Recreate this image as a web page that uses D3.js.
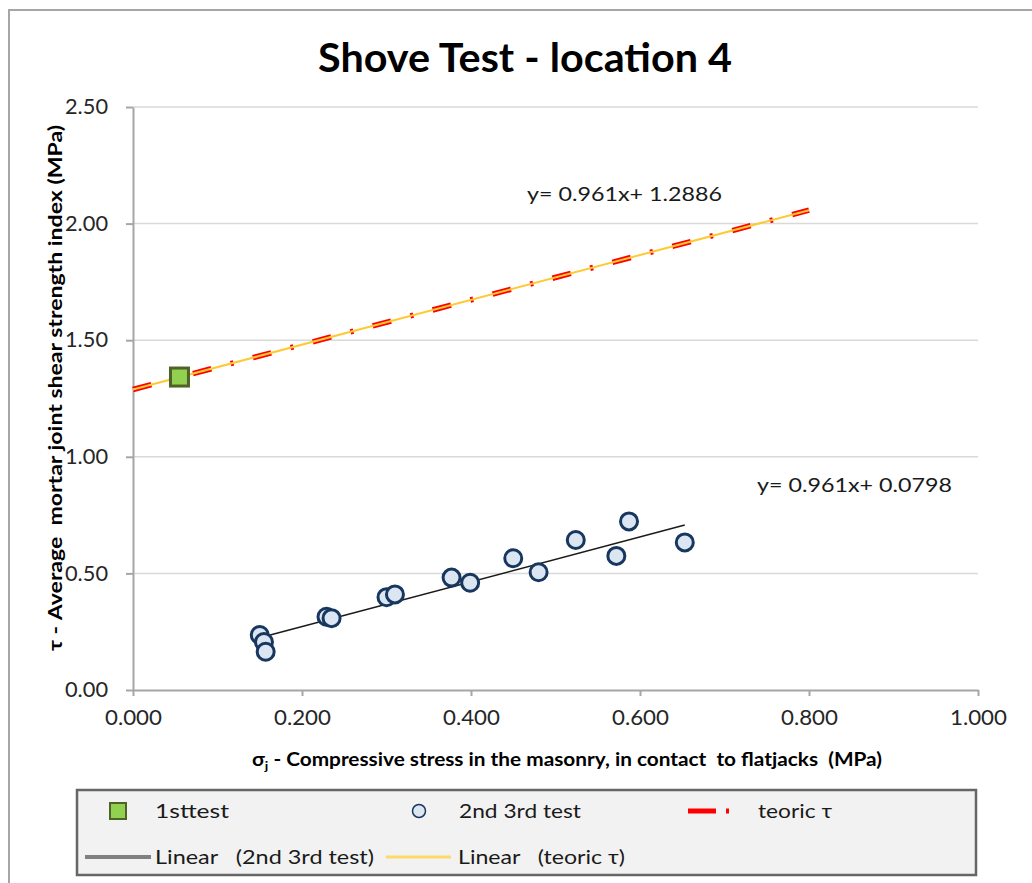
<!DOCTYPE html>
<html>
<head>
<meta charset="utf-8">
<script src="https://d3js.org/d3.v7.min.js"></script>
<style>
  body { margin: 0; background: #fff; font-family: Lato, 'Open Sans', sans-serif; }
  .tick text { font-family: Lato, sans-serif; fill: #262626; }
  text { white-space: pre; }
</style>
</head>
<body>
<svg id="chart" width="1032" height="883"></svg>
<script>
// values
const firstTest = [{ x: 0.055, y: 1.342 }];
const secondThird = [
  { x: 0.150, y: 0.236 }, { x: 0.155, y: 0.206 }, { x: 0.157, y: 0.164 },
  { x: 0.229, y: 0.314 }, { x: 0.235, y: 0.308 },
  { x: 0.300, y: 0.398 }, { x: 0.310, y: 0.410 },
  { x: 0.377, y: 0.482 }, { x: 0.399, y: 0.460 },
  { x: 0.450, y: 0.565 }, { x: 0.480, y: 0.505 },
  { x: 0.524, y: 0.643 }, { x: 0.572, y: 0.575 },
  { x: 0.587, y: 0.723 }, { x: 0.653, y: 0.633 }
];
const teoric = [{ x: 0.0, y: 1.2886 }, { x: 0.8, y: 2.0574 }];
const fitSecond = { slope: 0.961, intercept: 0.0798, label: "y= 0.961x+ 0.0798" };
const fitTeoric = { slope: 0.961, intercept: 1.2886, label: "y= 0.961x+ 1.2886" };
const xTicks = [0, 0.2, 0.4, 0.6, 0.8, 1.0];
const yTicks = [0, 0.5, 1.0, 1.5, 2.0, 2.5];
const legendRow1 = ["1sttest", "2nd 3rd test", "teoric \u03c4"];
const legendRow2 = ["Linear   (2nd 3rd test)", "Linear   (teoric \u03c4)"];

const svg = d3.select("#chart");
const plot = { left: 133, right: 978, top: 107, bottom: 690 };

const x = d3.scaleLinear().domain([0, 1]).range([plot.left, plot.right]);
const y = d3.scaleLinear().domain([0, 2.5]).range([plot.bottom, plot.top]);

// stretch a text to a measured width
function fit(sel, w) { sel.attr("textLength", w).attr("lengthAdjust", "spacingAndGlyphs"); return sel; }

// chart area border
svg.append("rect")
  .attr("x", 9).attr("y", 10).attr("width", 1040).attr("height", 900)
  .attr("fill", "#fff").attr("stroke", "#a6a6a6").attr("stroke-width", 2);

// title
fit(svg.append("text")
  .attr("x", 318).attr("y", 72)
  .style("font-size", "40px").style("font-weight", "bold").attr("fill", "#000")
  .text("Shove Test - location 4"), 414);

// gridlines
svg.append("g")
  .selectAll("line")
  .data(yTicks.filter(d => d > 0))
  .enter().append("line")
  .attr("x1", plot.left).attr("x2", plot.right)
  .attr("y1", d => y(d)).attr("y2", d => y(d))
  .attr("stroke", "#d9d9d9").attr("stroke-width", 1.5);

// axes
const yAxis = svg.append("g")
  .attr("transform", `translate(${plot.left},0)`)
  .call(d3.axisLeft(y).tickValues(yTicks).tickFormat(d3.format(".2f"))
    .tickSize(7).tickSizeOuter(0).tickPadding(18));
const xAxis = svg.append("g")
  .attr("transform", `translate(0,${plot.bottom})`)
  .call(d3.axisBottom(x).tickValues(xTicks).tickFormat(d3.format(".3f"))
    .tickSize(6).tickSizeOuter(0).tickPadding(14));
[yAxis, xAxis].forEach(a => {
  a.select(".domain").attr("stroke", "#a6a6a6").attr("stroke-width", 2);
  a.selectAll(".tick line").attr("stroke", "#a6a6a6").attr("stroke-width", 2);
  a.selectAll(".tick text").style("font-size", "21px");
});
yAxis.selectAll(".tick text").attr("textLength", 43).attr("lengthAdjust", "spacingAndGlyphs");
xAxis.selectAll(".tick text").attr("textLength", 57).attr("lengthAdjust", "spacingAndGlyphs");

// axis titles
fit(svg.append("text")
  .attr("transform", "translate(62,388) rotate(-90)")
  .attr("text-anchor", "middle")
  .style("font-size", "18px").style("font-weight", "bold").attr("fill", "#000")
  .text("\u03c4 - Average  mortar joint shear strength index (MPa)"), 526);

const xt = svg.append("text")
  .attr("x", 567).attr("y", 766)
  .attr("text-anchor", "middle")
  .style("font-size", "18px").style("font-weight", "bold").attr("fill", "#000");
xt.append("tspan").text("\u03c3");
xt.append("tspan").attr("dy", 4).style("font-size", "12px").text("j");
xt.append("tspan").attr("dy", -4).text(" - Compressive stress in the masonry, in contact  to flatjacks  (MPa)");
fit(xt, 630);

// teoric tau series (red dash-dot)
const line = d3.line().x(d => x(d.x)).y(d => y(d.y));
svg.append("path")
  .datum(teoric)
  .attr("d", line)
  .attr("fill", "none")
  .attr("stroke", "#ff0000").attr("stroke-width", 5.5)
  .attr("stroke-dasharray", "19,20,3,20");

// trend lines
function trend(f, x0, x1) {
  return [{ x: x0, y: f.slope * x0 + f.intercept }, { x: x1, y: f.slope * x1 + f.intercept }];
}
svg.append("path")
  .datum(trend(fitTeoric, 0, 0.8))
  .attr("d", line).attr("fill", "none")
  .attr("stroke", "#ffc933").attr("stroke-width", 2);
const xs = d3.extent(secondThird, d => d.x);
svg.append("path")
  .datum(trend(fitSecond, xs[0], xs[1]))
  .attr("d", line).attr("fill", "none")
  .attr("stroke", "#1a1a1a").attr("stroke-width", 1.5);

// 2nd 3rd test points
svg.append("g")
  .selectAll("circle")
  .data(secondThird)
  .enter().append("circle")
  .attr("cx", d => x(d.x)).attr("cy", d => y(d.y)).attr("r", 8.5)
  .attr("fill", "#dce6f2").attr("stroke", "#17375e").attr("stroke-width", 3);

// 1st test point
svg.append("g")
  .selectAll("rect")
  .data(firstTest)
  .enter().append("rect")
  .attr("x", d => x(d.x) - 9).attr("y", d => y(d.y) - 9)
  .attr("width", 18).attr("height", 18)
  .attr("fill", "#92d050").attr("stroke", "#4f6228").attr("stroke-width", 3);

// equations
fit(svg.append("text").attr("x", 527).attr("y", 201)
  .style("font-size", "19px").attr("fill", "#1a1a1a").text(fitTeoric.label), 195);
fit(svg.append("text").attr("x", 757).attr("y", 492)
  .style("font-size", "19px").attr("fill", "#1a1a1a").text(fitSecond.label), 195);

// legend
const lg = svg.append("g");
lg.append("rect")
  .attr("x", 77).attr("y", 790).attr("width", 899).attr("height", 85)
  .attr("fill", "#f2f2f2").attr("stroke", "#666").attr("stroke-width", 2.5);

lg.append("rect").attr("x", 110).attr("y", 803).attr("width", 16).attr("height", 16)
  .attr("fill", "#92d050").attr("stroke", "#4f6228").attr("stroke-width", 2);
lg.append("circle").attr("cx", 419).attr("cy", 811).attr("r", 6.5)
  .attr("fill", "#dce6f2").attr("stroke", "#17375e").attr("stroke-width", 1.5);
lg.append("line").attr("x1", 688).attr("x2", 716).attr("y1", 811).attr("y2", 811)
  .attr("stroke", "#ff0000").attr("stroke-width", 5);
lg.append("line").attr("x1", 726).attr("x2", 729).attr("y1", 811).attr("y2", 811)
  .attr("stroke", "#ff0000").attr("stroke-width", 5);
lg.append("line").attr("x1", 85).attr("x2", 151).attr("y1", 857).attr("y2", 857)
  .attr("stroke", "#808080").attr("stroke-width", 4);
lg.append("line").attr("x1", 386).attr("x2", 451).attr("y1", 857).attr("y2", 857)
  .attr("stroke", "#ffd966").attr("stroke-width", 3);

const row1 = [[155, 74], [459, 122], [758, 74]];
legendRow1.forEach((t, i) => {
  fit(lg.append("text").attr("x", row1[i][0]).attr("y", 818)
    .style("font-size", "19px").attr("fill", "#1a1a1a").text(t), row1[i][1]);
});
const row2 = [[155, 219], [458, 167]];
legendRow2.forEach((t, i) => {
  fit(lg.append("text").attr("x", row2[i][0]).attr("y", 864)
    .style("font-size", "19px").attr("fill", "#1a1a1a").text(t), row2[i][1]);
});
</script>
</body>
</html>
